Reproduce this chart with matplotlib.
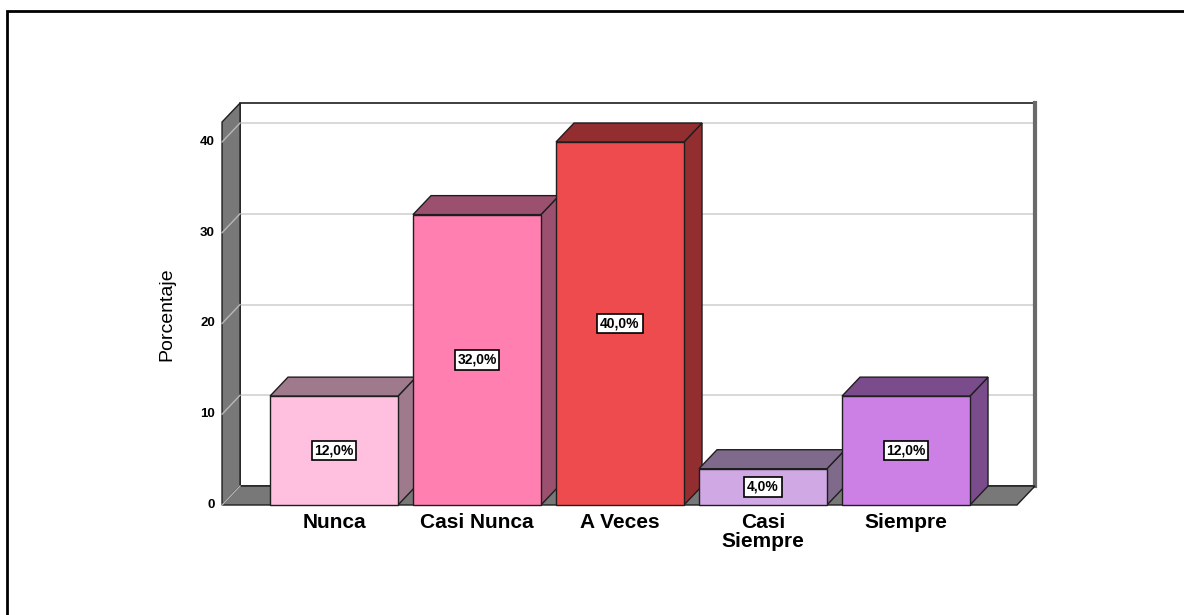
import numpy as np
import matplotlib
matplotlib.use("Agg")
import matplotlib.pyplot as plt
from matplotlib.patches import Polygon, Rectangle

plt.rcParams['font.family'] = ['Liberation Sans', 'DejaVu Sans']

categories = ['Nunca', 'Casi Nunca', 'A Veces', 'Casi\nSiempre', 'Siempre']
values = [12.0, 32.0, 40.0, 4.0, 12.0]
value_labels = ['12,0%', '32,0%', '40,0%', '4,0%', '12,0%']
y_ticks = [0, 10, 20, 30, 40]
y_label = 'Porcentaje'

front_colors = ['#FFC0E0', '#FF80B0', '#EE4B4E', '#D0A8E4', '#CC80E6']
dark_colors = ['#9E7A8C', '#9C5070', '#922D30', '#7F6A8C', '#7A4C8C']

# 3d look
DX, DY = 0.126, 2.09       # depth offset (x in category units, y in percent)
W = 0.895                  # bar width
XL, XR = -0.783, 4.776     # floor front edge
H = 42.2                   # wall height
WALL = '#787878'
EDGE = '#1e1e1e'
GRID = '#d2d2d2'

fig = plt.figure(figsize=(11.84, 6.15), dpi=100)
ax = fig.add_axes([0, 0, 1, 1])
# 1 category = 143 px, 1 percent = 9.075 px
ax.set_xlim((0 - 334) / 143, (1184 - 334) / 143)
ax.set_ylim((505 - 615) / 9.075, 505 / 9.075)
ax.axis('off')

# outer frame (top and left only visible)
ax.add_patch(Rectangle(((7 - 334) / 143, (505 - 700) / 9.075), 20, (700 - 11) / 9.075,
                       fill=False, ec='black', lw=2, zorder=0))

# back panel
ax.add_patch(Rectangle((XL + DX, DY), XR - XL, H, fc='white', ec=EDGE, lw=1.2, zorder=1))
ax.plot([XR + DX, XR + DX], [DY, DY + H], color='#6a6a6a', lw=3, zorder=1.5)
# left wall
ax.add_patch(Polygon([(XL, 0), (XL + DX, DY), (XL + DX, DY + H), (XL, H)],
                     closed=True, fc=WALL, ec=EDGE, lw=1, zorder=2))
# floor
ax.add_patch(Polygon([(XL, 0), (XR, 0), (XR + DX, DY), (XL + DX, DY)],
                     closed=True, fc=WALL, ec=EDGE, lw=1, zorder=2))

for t in y_ticks[1:]:
    ax.plot([XL + DX, XR + DX], [t + DY, t + DY], color=GRID, lw=1.2, zorder=1.2)
    ax.plot([XL, XL + DX], [t, t + DY], color='#b8b8b8', lw=1, zorder=2.5)
ax.plot([XL, XL + DX], [0, DY], color='#b8b8b8', lw=1, zorder=2.5)

for t in y_ticks:
    ax.text(XL - 0.05, t, str(t), ha='right', va='center', fontsize=9.5,
            fontweight='bold', zorder=5)

ax.text(-1.17, 21, y_label, rotation=90, ha='center', va='center', fontsize=14, zorder=5)

for i, (v, fc, dc) in enumerate(zip(values, front_colors, dark_colors)):
    z = 3 + i * 0.1
    x0, x1 = i - W / 2, i + W / 2
    ax.add_patch(Polygon([(x1, 0), (x1 + DX, DY), (x1 + DX, v + DY), (x1, v)],
                         closed=True, fc=dc, ec=EDGE, lw=1, zorder=z))
    ax.add_patch(Polygon([(x0, v), (x1, v), (x1 + DX, v + DY), (x0 + DX, v + DY)],
                         closed=True, fc=dc, ec=EDGE, lw=1, zorder=z))
    ax.add_patch(Rectangle((x0, 0), W, v, fc=fc, ec=EDGE, lw=1, zorder=z + 0.01))
    ax.text(i, v / 2, value_labels[i], ha='center', va='center', fontsize=10,
            fontweight='bold', zorder=6,
            bbox=dict(boxstyle='square,pad=0.2', fc='white', ec='black', lw=1.2))
    ax.text(i, -0.9, categories[i], ha='center', va='top', fontsize=15,
            fontweight='bold', linespacing=1.0, zorder=5)

fig.savefig('out.png', dpi=100)
